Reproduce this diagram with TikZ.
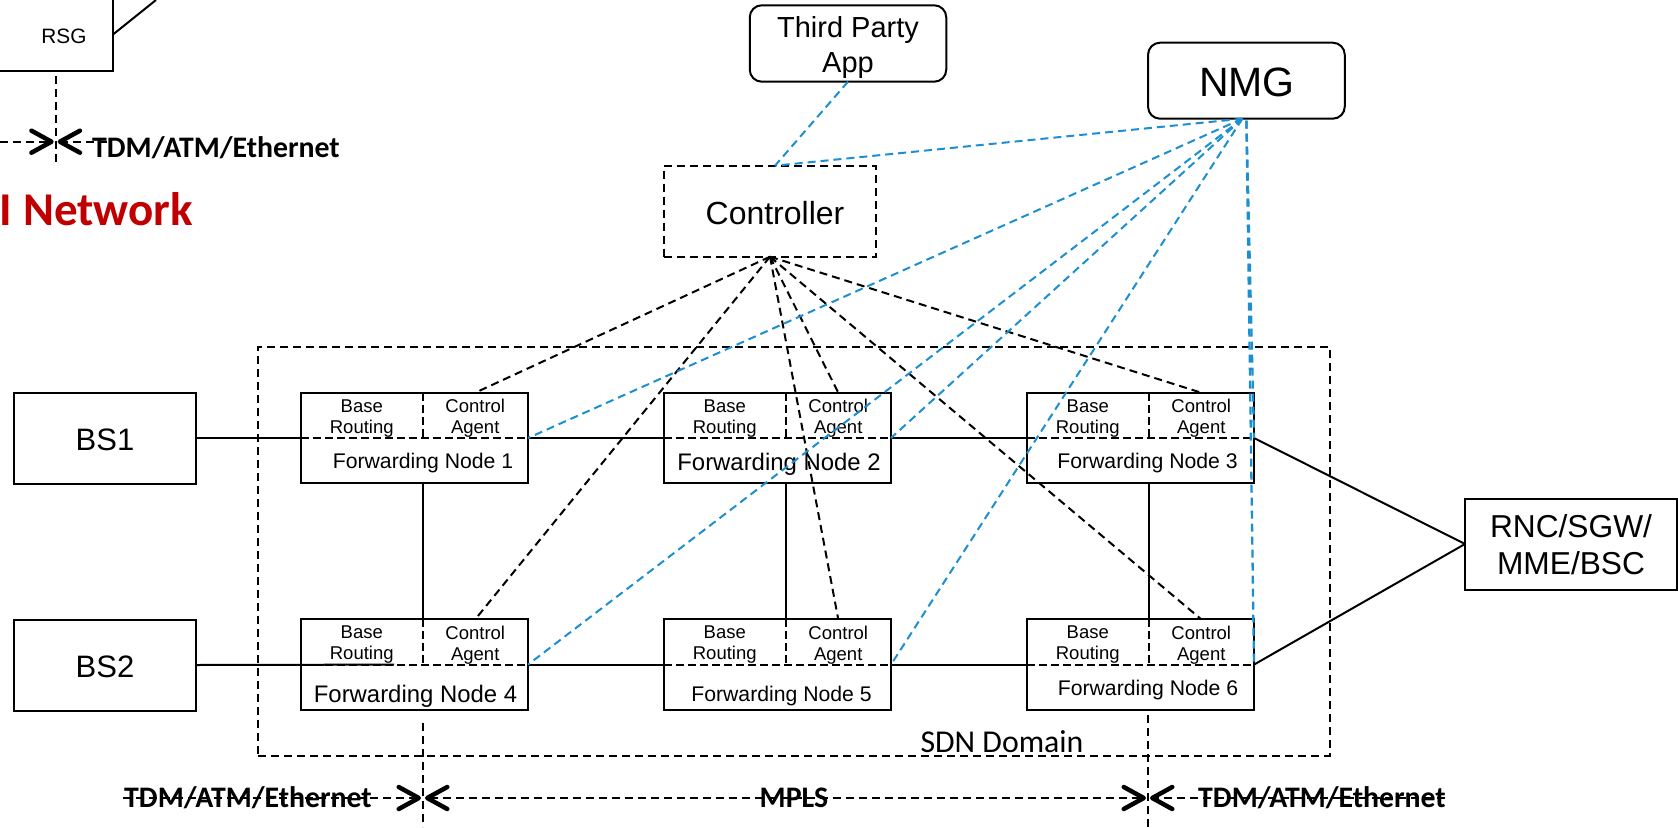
\documentclass[tikz,border=0pt]{standalone}
\usepackage{fontspec}
\setmainfont{Liberation Sans}
\newfontfamily\calib{Carlito}
\usetikzlibrary{arrows.meta,calc}
\definecolor{linkblue}{HTML}{1B8FD2}
\definecolor{netred}{HTML}{C00000}
\newcommand\fsz[2]{\fontsize{#1}{#2}\selectfont}
\tikzset{
  box/.style={draw,line width=2pt,inner sep=0pt,outer sep=0pt,align=center},
  fwd/.style={box,minimum width=227pt,minimum height=90.6pt},
  basecell/.style={inner sep=0pt,outer sep=0pt,minimum width=121.5pt,minimum height=45.3pt},
  ctrlcell/.style={inner sep=0pt,outer sep=0pt,minimum width=105.5pt,minimum height=45.3pt},
  celltext/.style={inner sep=0pt,align=center,font=\fsz{18.5}{21}},
  boxtext/.style={inner sep=0pt,align=center},
  cutline/.style={line width=2pt,dash pattern=on 8pt off 4pt},
  ctlline/.style={line width=2pt,dash pattern=on 8pt off 5pt},
  mgmt/.style={line width=2pt,color=linkblue,dash pattern=on 8pt off 5pt},
  mgmtv/.style={mgmt,line width=2.3pt},
  wire/.style={line width=2pt},
  sdnbox/.style={line width=2pt,dash pattern=on 8pt off 5pt},
  boundary/.style={line width=2pt,dash pattern=on 8pt off 5pt},
  blabel/.style={inner sep=0pt,font=\calib\bfseries\fsz{29.8}{34}},
  barb/.tip={Straight Barb[round,length=20pt,width=22pt,line width=4.5pt]},
}
% name, left x, top y
\newcommand\fwdnode[3]{%
  \node[fwd,anchor=north west] (fn#1) at (#2,#3) {};
  \node[basecell,anchor=north west] (base#1) at (#2,#3) {};
  \node[ctrlcell,anchor=north west] (ctrl#1) at (base#1.north east) {};
  \node[celltext] (btxt#1) at ($(base#1.center)+(0,3)$) {Base\\Routing};
  \node[celltext] (ctxt#1) at ($(ctrl#1.center)+(0,3)$) {Control\\Agent};
  \draw[cutline] (base#1.north east) -- (base#1.south east);
  \draw[cutline] (base#1.south west) -- (ctrl#1.south east);
}
\begin{document}
\begin{tikzpicture}[x=1pt,y=-1pt]
\useasboundingbox (0,0) rectangle (1678,827);

% forwarding nodes
\fwdnode{1}{301}{392.7}
\fwdnode{2}{664}{392.7}
\fwdnode{3}{1027}{392.7}
\fwdnode{4}{301}{619.3}
\fwdnode{5}{664}{619.3}
\fwdnode{6}{1027}{619.3}
\node[inner sep=0pt,font=\fsz{21.2}{24}] (t1) at (423,463.5) {Forwarding Node 1};
\node[inner sep=0pt,font=\fsz{23.9}{27}] (t2) at (779,464) {Forwarding Node 2};
\node[inner sep=0pt,font=\fsz{21.2}{24}] (t3) at (1147.5,463.5) {Forwarding Node 3};
\node[inner sep=0pt,font=\fsz{23.9}{27}] (t4) at (415.5,696.5) {Forwarding Node 4};
\node[inner sep=0pt,font=\fsz{21.2}{24}] (t5) at (781.5,696.5) {Forwarding Node 5};
\node[inner sep=0pt,font=\fsz{21.2}{24}] (t6) at (1148,690.5) {Forwarding Node 6};

% end boxes
\node[box,minimum width=182pt,minimum height=91pt] (bs1) at (105,438) {};
\node[box,minimum width=182pt,minimum height=91pt] (bs2) at (105,665) {};
\node[box,minimum width=212pt,minimum height=91pt] (rnc) at (1571,544) {};
\node[box,rounded corners=12pt,minimum width=196.5pt,minimum height=76.4pt] (tpa) at (848,43.5) {};
\node[box,rounded corners=12pt,minimum width=196.7pt,minimum height=76pt] (nmg) at (1246.4,80.7) {};
\node[box,dash pattern=on 8pt off 5pt,line width=2pt,minimum width=212pt,minimum height=91pt] (ctl) at (770,211.2) {};
\node[boxtext,font=\fsz{31}{36}] (bs1t) at ($(bs1.center)+(0,2)$) {BS1};
\node[boxtext,font=\fsz{31}{36}] (bs2t) at ($(bs2.center)+(0,2)$) {BS2};
\node[boxtext,font=\fsz{31.7}{37}] (rnct) at ($(rnc.center)+(0,1)$) {RNC/SGW/\\MME/BSC};
\node[boxtext,font=\fsz{29}{35}] (tpat) at ($(tpa.center)+(0,4)$) {Third Party\\App};
\node[boxtext,font=\fsz{41}{46}] (nmgt) at ($(nmg.center)+(0.5,1.5)$) {NMG};
\node[boxtext,font=\fsz{32}{37}] (ctlt) at ($(ctl.center)+(5,2)$) {Controller};

% RSG (cut by the page)
\node[box,anchor=south east,minimum width=180pt,minimum height=120pt] (rsg) at (113,71) {};
\node[inner sep=0pt,font=\fsz{20.8}{24}] (rsgt) at (64,36) {RSG};
\coordinate (rsgout) at (156,0);
\coordinate (rsgin) at (113,34.5);
\draw[wire] (rsgin) -- (rsgout);

% SDN domain
\node[draw,sdnbox,inner sep=0pt,outer sep=0pt,minimum width=1071.5pt,minimum height=408.7pt] (sdn) at (793.75,551.35) {};
\node[inner sep=0pt,font=\calib\fsz{31.8}{36}] (sdnt) at (1002,742) {SDN Domain};

% solid links
\draw[wire] (bs1.east) -- (fn1.west);
\draw[wire] (fn1.east) -- (fn2.west);
\draw[wire] (fn2.east) -- (fn3.west);
\coordinate (bs2in) at ($(fn4.west)+(93,0)$);
\draw[wire] (bs2.east) -- (bs2in);
\draw[wire] (fn4.east) -- (fn5.west);
\draw[wire] (fn5.east) -- (fn6.west);
\draw[wire] (base1.south east |- fn1.south) -- (base4.north east);
\draw[wire] (base2.south east |- fn2.south) -- (base5.north east);
\draw[wire] (base3.south east |- fn3.south) -- (base6.north east);
\draw[wire] (fn3.east) -- (rnc.west);
\draw[wire] (fn6.east) -- (rnc.west);

% control links
\foreach \n in {1,...,6} \draw[ctlline] (ctl.south) -- (ctrl\n.north);

% management links
\coordinate (nmgfan) at ($(nmg.south)+(-4,0)$);
\coordinate (nmgvert) at ($(nmg.south)+(0,2)$);
\coordinate (ctltop) at ($(ctl.north)+(5,0)$);
\draw[mgmt] (tpa.south) -- (ctltop);
\draw[mgmt] (nmgfan) -- (ctltop);
\draw[mgmt] (nmgfan) -- (fn1.east);
\draw[mgmt] (nmgfan) -- (fn2.east);
\draw[mgmt] (nmgfan) -- (fn4.east);
\draw[mgmt] (nmgfan) -- (fn5.east);
\draw[mgmtv] (nmgvert) -- (fn3.east);
\draw[mgmtv] (nmgvert) -- (fn6.east);

% boundary markers, bottom
\coordinate (bl) at (123,798);
\coordinate (br) at (1445,798);
\coordinate (xl) at (423,798);
\coordinate (xr) at (1148,798);
\coordinate (xlt) at (423,723);
\coordinate (xlb) at (423,827);
\coordinate (xrt) at (1148,715);
\coordinate (xrb) at (1148,827);
\draw[boundary] (xlt) -- (xlb);
\draw[boundary] (xrt) -- (xrb);
\draw[boundary,-barb] (bl) -- ($(xl)+(-2,0)$);
\draw[boundary,barb-barb] ($(xl)+(2,0)$) -- ($(xr)+(-2,0)$);
\draw[boundary,-barb] (br) -- ($(xr)+(2,0)$);
\node[blabel] (lt) at (248,798) {TDM/ATM/Ethernet};
\node[blabel] (lm) at (794,798) {MPLS};
\node[blabel] (lr) at (1322,798) {TDM/ATM/Ethernet};

% boundary marker, top left
\coordinate (ul) at (0,141.7);
\coordinate (ur) at (107,141.7);
\coordinate (ux) at (55.7,141.7);
\coordinate (ut) at (55.7,76);
\coordinate (ub) at (55.7,166);
\draw[boundary] (ut) -- (ub);
\draw[boundary,-barb] (ul) -- ($(ux)+(-2,0)$);
\draw[boundary,-barb] (ur) -- ($(ux)+(2,0)$);
\node[blabel] (lu) at (216,148) {TDM/ATM/Ethernet};
\node[inner sep=0pt,anchor=base east,text=netred,font=\calib\bfseries\fsz{47}{52}] (net) at (193,225) {I Network};
\end{tikzpicture}
\end{document}
